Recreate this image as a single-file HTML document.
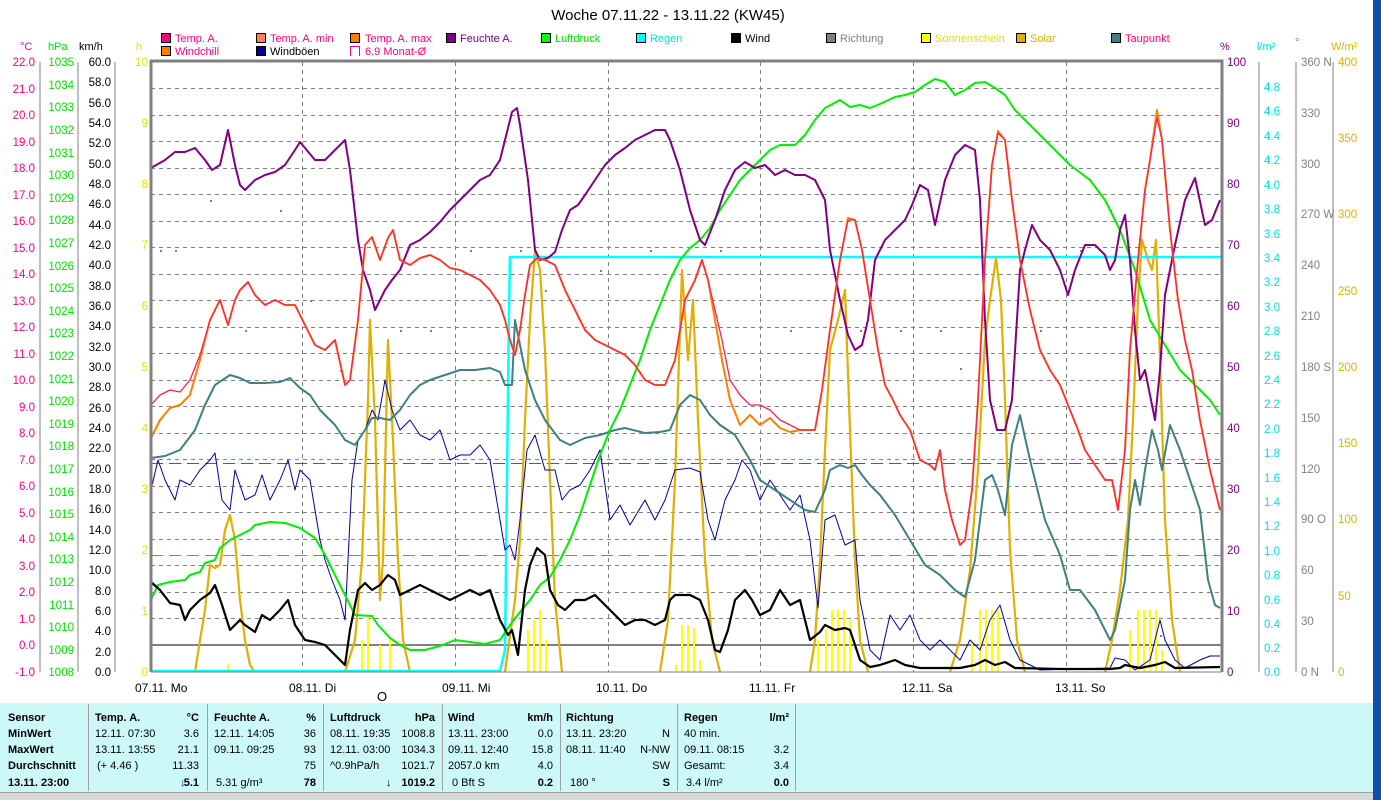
<!DOCTYPE html>
<html><head><meta charset="utf-8"><style>
html,body{margin:0;padding:0;background:#fff;width:1381px;height:800px;overflow:hidden}
svg{display:block;font-family:"Liberation Sans",sans-serif}
</style></head><body>
<svg width="1381" height="800" viewBox="0 0 1381 800" xmlns="http://www.w3.org/2000/svg">
<rect x="0" y="0" width="1381" height="800" fill="#fff"/>
<rect x="1373" y="0" width="8" height="800" fill="#0b4fb0"/>
<text x="668" y="20" font-size="15" text-anchor="middle">Woche 07.11.22 - 13.11.22 (KW45)</text>
<g font-size="11">
<rect x="161.5" y="33.5" width="9" height="9" fill="#ff0080" stroke="#000"/><text x="175" y="42" fill="#ff0080">Temp. A.</text>
<rect x="256.5" y="33.5" width="9" height="9" fill="#ff8050" stroke="#000"/><text x="270" y="42" fill="#ff0080">Temp. A. min</text>
<rect x="350.5" y="33.5" width="9" height="9" fill="#ff8000" stroke="#000"/><text x="365" y="42" fill="#ff0080">Temp. A. max</text>
<rect x="446.5" y="33.5" width="9" height="9" fill="#800080" stroke="#000"/><text x="460" y="42" fill="#800080">Feuchte A.</text>
<rect x="541.5" y="33.5" width="9" height="9" fill="#00ff00" stroke="#000"/><text x="555" y="42" fill="#00e000">Luftdruck</text>
<rect x="636.5" y="33.5" width="9" height="9" fill="#00ffff" stroke="#000"/><text x="650" y="42" fill="#00e0e0">Regen</text>
<rect x="731.5" y="33.5" width="9" height="9" fill="#000" stroke="#000"/><text x="745" y="42" fill="#000">Wind</text>
<rect x="826.5" y="33.5" width="9" height="9" fill="#808080" stroke="#000"/><text x="840" y="42" fill="#808080">Richtung</text>
<rect x="921.5" y="33.5" width="9" height="9" fill="#ffff00" stroke="#000"/><text x="935" y="42" fill="#e0e000">Sonnenschein</text>
<rect x="1016.5" y="33.5" width="9" height="9" fill="#e0b000" stroke="#000"/><text x="1030" y="42" fill="#e0b000">Solar</text>
<rect x="1111.5" y="33.5" width="9" height="9" fill="#408080" stroke="#000"/><text x="1125" y="42" fill="#ff0080">Taupunkt</text>
<rect x="161.5" y="46.5" width="9" height="9" fill="#ff8000" stroke="#000"/><text x="175" y="55" fill="#ff0080">Windchill</text>
<rect x="256.5" y="46.5" width="9" height="9" fill="#000090" stroke="#000"/><text x="270" y="55" fill="#000">Windböen</text>
<path d="M350.5,56 V46.5 H359.5 V56" fill="none" stroke="#ff0080"/><text x="365" y="55" fill="#ff0080">6.9 Monat-Ø</text>
<text x="20" y="50" fill="#ff0080">°C</text>
<text x="48" y="50" fill="#00e000">hPa</text>
<text x="79" y="50" fill="#000">km/h</text>
<text x="136" y="50" fill="#e0e000">h</text>
<text x="1220" y="50" fill="#800080">%</text>
<text x="1257" y="50" fill="#00e0e0">l/m²</text>
<text x="1295" y="46" fill="#808080">°</text>
<text x="1331" y="50" fill="#e0b000">W/m²</text>
</g>
<!-- grid -->
<g stroke="#808080" stroke-dasharray="4,4" stroke-width="1">
<path d="M151,88.5H1222M151,115.5H1222M151,141.5H1222M151,168.5H1222M151,194.5H1222M151,221.5H1222M151,247.5H1222M151,274.5H1222M151,300.5H1222M151,327.5H1222M151,353.5H1222M151,380.5H1222M151,406.5H1222M151,433.5H1222M151,459.5H1222M151,486.5H1222M151,512.5H1222M151,539.5H1222M151,565.5H1222M151,592.5H1222M151,618.5H1222"/>
<path d="M302.5,62V672M455.5,62V672M608.5,62V672M760.5,62V672M913.5,62V672M1066.5,62V672"/>
</g>
<path d="M151,463.5H1222" stroke="#ff0080" stroke-dasharray="12,6"/>
<path d="M151,555.5H1222" stroke="#00e000" stroke-dasharray="12,6"/>
<path d="M151,645H1222" stroke="#808080" stroke-width="2"/>
<!-- direction dots -->
<g fill="#808080">
<rect x="160" y="250" width="2" height="2"/><rect x="175" y="250" width="2" height="2"/><rect x="245" y="330" width="2" height="2"/><rect x="310" y="300" width="2" height="2"/><rect x="340" y="370" width="2" height="2"/><rect x="400" y="330" width="2" height="2"/><rect x="430" y="330" width="2" height="2"/><rect x="470" y="250" width="2" height="2"/><rect x="520" y="250" width="2" height="2"/><rect x="545" y="290" width="2" height="2"/><rect x="600" y="270" width="2" height="2"/><rect x="650" y="250" width="2" height="2"/><rect x="720" y="250" width="2" height="2"/><rect x="790" y="330" width="2" height="2"/><rect x="860" y="330" width="2" height="2"/><rect x="900" y="330" width="2" height="2"/><rect x="940" y="330" width="2" height="2"/><rect x="960" y="368" width="2" height="2"/><rect x="1040" y="330" width="2" height="2"/><rect x="1080" y="250" width="2" height="2"/><rect x="1110" y="210" width="2" height="2"/><rect x="1160" y="635" width="2" height="2"/><rect x="210" y="200" width="2" height="2"/><rect x="280" y="210" width="2" height="2"/>
</g>
<!-- sunshine bars -->
<g stroke="#ffff00" stroke-width="2">
<path d="M228,672V664M362,672V640M368,672V618M380,672V645M390,672V640M528,672V630M534,672V620M540,672V610M546,672V640M676,672V665M682,672V625M688,672V625M694,672V628M700,672V660M818,672V640M826,672V630M832,672V610M838,672V610M844,672V610M850,672V620M972,672V642M980,672V610M986,672V610M992,672V610M998,672V610M1130,672V630M1138,672V610M1144,672V610M1150,672V610M1156,672V610M1162,672V650"/>
</g>
<g fill="none" stroke-linejoin="round">
<!-- solar -->
<polyline stroke="#e0b000" stroke-width="2.2" points="195,672 200,640 205,610 210,565 215,568 220,565 225,530 230,515 235,540 240,600 245,640 250,665 255,672 M"/>
<polyline stroke="#e0b000" stroke-width="2.2" points="345,672 355,640 362,560 368,400 370,320 375,420 380,600 383,560 388,340 393,440 398,560 403,640 410,672"/>
<polyline stroke="#e0b000" stroke-width="2.2" points="505,672 515,600 520,540 525,420 530,320 535,250 540,270 545,350 550,480 555,600 562,672"/>
<polyline stroke="#e0b000" stroke-width="2.2" points="660,672 668,620 675,480 682,270 688,360 693,300 698,420 705,560 712,640 720,672"/>
<polyline stroke="#e0b000" stroke-width="2.2" points="810,672 815,640 820,560 825,450 830,350 838,320 845,290 850,430 855,560 860,640 868,672"/>
<polyline stroke="#e0b000" stroke-width="2.2" points="950,672 960,640 970,570 978,470 985,340 990,300 996,258 1001,300 1005,400 1010,550 1017,640 1025,672"/>
<polyline stroke="#e0b000" stroke-width="2.2" points="1105,672 1112,640 1120,590 1128,520 1133,420 1138,300 1142,240 1148,260 1152,270 1156,240 1160,360 1165,520 1172,620 1180,672"/>
<!-- rain -->
<polyline stroke="#00ffff" stroke-width="2.5" points="151,671 500,671 505,650 509,310 510,257 1222,257"/>
<!-- gusts -->
<polyline stroke="#0000a0" stroke-width="1" points="151,490 158,460 165,480 175,500 180,480 190,485 200,470 210,460 215,453 222,500 230,510 235,470 245,500 255,495 262,475 270,500 280,480 288,460 295,490 300,470 310,480 315,510 320,540 325,560 332,580 340,600 345,620 352,480 358,440 365,430 372,410 378,420 385,380 392,410 400,430 410,420 420,435 430,440 440,430 450,460 460,455 470,455 480,445 490,460 500,520 505,550 510,545 515,560 520,520 527,450 535,435 545,470 555,470 562,500 570,490 580,485 590,470 600,450 610,520 620,505 630,525 645,500 655,520 665,500 675,470 690,468 700,472 708,520 715,540 725,500 735,480 742,460 750,470 760,500 770,480 780,495 790,510 800,495 810,540 818,608 825,520 835,515 845,545 855,540 860,600 870,650 880,660 890,615 900,630 910,615 920,640 930,650 940,640 950,650 960,660 970,640 980,650 990,620 1000,605 1010,640 1020,660 1040,670 1110,668 1115,658 1125,660 1135,670 1150,660 1160,620 1165,640 1175,660 1185,668 1200,660 1210,656 1220,656"/>
<!-- dew point -->
<polyline stroke="#408080" stroke-width="2" points="151,458 165,456 180,450 195,430 205,405 215,385 230,375 240,378 250,383 265,383 280,382 290,378 300,388 310,395 320,410 335,425 345,440 355,445 365,430 372,418 380,418 390,420 400,410 410,395 420,385 430,380 445,375 460,370 475,370 490,368 500,372 505,385 512,385 515,320 525,370 535,400 545,420 560,440 570,445 585,438 600,435 615,430 625,428 645,433 660,432 670,430 680,405 690,395 700,400 710,415 720,425 735,435 750,460 760,480 775,490 790,500 805,510 815,512 825,490 830,470 840,465 848,468 855,465 862,475 870,485 880,495 895,515 910,540 925,565 940,575 955,590 965,597 975,560 985,480 992,475 998,490 1005,515 1012,445 1020,415 1030,460 1045,520 1060,555 1070,590 1080,590 1095,610 1110,640 1115,630 1125,580 1130,510 1135,480 1140,505 1145,470 1152,430 1158,450 1162,470 1170,425 1180,450 1190,480 1200,510 1208,580 1215,605 1220,608"/>
<!-- pressure -->
<polyline stroke="#00ee00" stroke-width="2" points="151,600 158,585 170,582 185,580 190,575 200,572 205,563 215,560 220,548 230,540 240,535 250,530 255,525 270,522 285,523 300,528 315,538 325,555 335,575 345,595 355,615 372,616 378,625 390,638 400,645 410,650 425,650 440,646 455,640 470,642 485,644 500,640 510,625 520,612 530,600 540,585 550,577 560,560 570,540 580,515 590,485 600,455 610,430 620,410 630,385 640,360 650,330 660,305 670,280 680,260 690,248 700,240 710,228 720,210 730,195 740,180 750,170 760,160 770,150 780,145 795,145 805,135 815,120 825,108 840,100 850,107 860,105 870,108 880,104 895,97 905,95 915,92 925,85 935,79 945,82 955,95 965,90 975,83 985,82 995,88 1005,95 1015,110 1030,125 1050,145 1070,165 1090,180 1105,200 1120,230 1135,270 1150,320 1165,345 1180,370 1195,385 1210,400 1220,415"/>
<!-- humidity -->
<polyline stroke="#800080" stroke-width="2" points="151,168 165,160 175,152 185,152 195,148 205,160 212,170 220,165 228,130 235,165 240,185 245,190 255,180 265,175 275,172 285,165 295,150 300,142 305,148 315,160 325,160 335,150 345,140 350,170 358,240 363,270 370,290 375,310 380,300 385,290 392,280 400,270 410,245 420,240 430,232 440,222 450,210 460,200 470,190 480,180 490,175 500,160 505,140 512,112 517,108 520,125 528,180 535,250 540,260 548,258 555,252 562,230 570,210 578,205 585,195 595,180 605,165 615,155 625,148 635,140 645,135 655,130 665,130 670,140 680,170 690,210 700,240 705,245 715,220 725,190 735,170 745,162 755,168 765,165 775,175 785,170 795,175 805,175 815,180 825,200 830,250 840,300 848,335 855,350 862,345 868,320 875,260 885,240 895,230 905,220 912,205 920,185 928,190 935,225 945,180 955,155 965,145 975,150 980,200 985,320 990,400 997,430 1005,430 1012,400 1020,270 1025,250 1032,225 1040,240 1050,250 1060,270 1068,295 1075,270 1085,245 1095,245 1105,255 1110,270 1115,260 1120,230 1125,215 1130,260 1135,330 1140,380 1145,370 1150,395 1155,420 1160,370 1165,295 1175,245 1185,200 1195,178 1205,225 1212,220 1220,200"/>
<!-- windchill / temp -->
<polyline stroke="#ff8000" stroke-width="2" points="151,438 160,420 170,408 180,405 190,395 200,360 210,320 220,300 228,325 235,300 240,290 248,282 255,295 265,305 275,300 285,305 295,305 305,325 315,345 325,350 335,340 345,385 350,380 358,320 365,245 372,237 380,260 388,238 393,230 400,260 410,265 420,258 430,255 440,260 450,268 460,270 470,275 480,280 490,290 500,305 505,320 510,340 515,355 520,330 525,295 530,265 537,258 545,260 555,265 565,290 575,310 585,330 595,340 605,345 615,350 625,355 635,365 645,380 655,385 665,385 675,360 685,300 695,280 702,260 708,280 715,320 722,360 730,400 740,425 750,415 760,425 770,418 780,428 790,432 800,430 810,430 815,430 822,390 830,330 840,260 848,218 855,220 862,250 870,300 878,350 885,385 893,400 900,415 910,430 920,460 930,465 935,470 940,450 945,490 952,520 960,545 965,540 972,490 978,400 985,260 992,165 998,131 1005,140 1012,200 1020,260 1030,310 1040,350 1050,370 1060,385 1068,405 1078,430 1085,450 1095,465 1105,480 1112,480 1118,510 1125,450 1130,350 1138,260 1145,190 1150,160 1157,110 1162,140 1170,230 1178,300 1185,340 1192,370 1200,420 1210,470 1220,510"/>
<polyline stroke="#ff2050" stroke-width="1.3" points="151,405 160,395 170,390 180,392 190,380 200,355 210,320 220,300 228,325 235,300 240,290 248,282 255,295 265,305 275,300 285,305 295,305 305,325 315,345 325,350 335,340 345,385 350,380 358,320 365,245 372,237 380,260 388,238 393,230 400,260 410,265 420,258 430,255 440,260 450,268 460,270 470,275 480,280 490,290 500,305 505,320 510,340 515,355 520,330 525,295 530,265 537,258 545,260 555,265 565,290 575,310 585,330 595,340 605,345 615,350 625,355 635,365 645,380 655,385 665,385 675,360 685,300 695,280 702,260 708,280 715,310 722,340 730,380 740,395 750,405 760,405 770,410 780,420 790,425 800,430 810,430 815,430 822,390 830,330 840,260 848,220 855,220 862,250 870,300 878,350 885,385 893,400 900,415 910,430 920,460 930,465 935,470 940,450 945,490 952,520 960,545 965,540 972,490 978,400 985,260 992,165 998,133 1005,140 1012,200 1020,260 1030,310 1040,350 1050,370 1060,385 1068,405 1078,430 1085,450 1095,465 1105,480 1112,480 1118,510 1125,450 1130,350 1138,260 1145,190 1150,160 1157,118 1162,140 1170,230 1178,300 1185,340 1192,370 1200,420 1210,470 1220,510"/>
<!-- wind -->
<polyline stroke="#000" stroke-width="2.2" points="151,582 160,590 170,603 180,605 185,620 190,610 200,600 210,593 215,585 222,605 230,630 240,620 245,625 255,632 262,615 270,620 280,610 288,600 295,625 305,640 315,642 325,645 335,655 345,665 350,630 358,590 365,583 372,590 380,585 388,575 395,580 400,595 410,590 420,585 430,590 440,595 450,600 460,595 470,590 480,595 490,590 500,620 508,635 512,630 518,655 525,590 530,565 537,548 545,555 550,590 558,605 565,610 575,600 585,600 595,595 605,605 615,615 625,625 635,620 645,620 655,625 665,620 670,600 675,595 690,595 700,600 708,620 715,650 720,652 728,630 735,600 745,590 752,600 760,615 770,610 780,590 790,605 800,600 810,640 820,632 825,625 835,630 845,628 850,630 855,645 860,660 870,667 880,665 895,660 905,665 920,668 960,668 975,665 985,660 995,665 1005,662 1015,668 1060,669 1110,669 1120,668 1125,665 1140,668 1155,665 1165,662 1175,668 1220,667"/>
</g>
<!-- frame -->
<path d="M151,672V61H1222V672" fill="none" stroke="#808080" stroke-width="3"/>
<path d="M151,672H1222" stroke="#808080" stroke-width="1"/>
<!-- left axes -->
<g stroke="#808080" fill="none">
<path d="M40,62V672M78,62V672M115,62V672"/>
</g>
<g font-size="11.5" text-anchor="end">
<g fill="#ff0080" id="c"></g>
</g>
<g font-size="11.5" text-anchor="end" fill="#ff0080">
<text x="35" y="66">22.0</text><text x="35" y="93">21.0</text><text x="35" y="119">20.0</text><text x="35" y="146">19.0</text><text x="35" y="172">18.0</text><text x="35" y="199">17.0</text><text x="35" y="225">16.0</text><text x="35" y="252">15.0</text><text x="35" y="278">14.0</text><text x="35" y="305">13.0</text><text x="35" y="331">12.0</text><text x="35" y="358">11.0</text><text x="35" y="384">10.0</text><text x="35" y="411">9.0</text><text x="35" y="437">8.0</text><text x="35" y="464">7.0</text><text x="35" y="490">6.0</text><text x="35" y="517">5.0</text><text x="35" y="543">4.0</text><text x="35" y="570">3.0</text><text x="35" y="596">2.0</text><text x="35" y="623">1.0</text><text x="35" y="649">0.0</text><text x="35" y="676">-1.0</text>
</g>
<g font-size="11.5" text-anchor="end" fill="#00e000">
<text x="74" y="66">1035</text><text x="74" y="89">1034</text><text x="74" y="111">1033</text><text x="74" y="134">1032</text><text x="74" y="157">1031</text><text x="74" y="179">1030</text><text x="74" y="202">1029</text><text x="74" y="224">1028</text><text x="74" y="247">1027</text><text x="74" y="270">1026</text><text x="74" y="292">1025</text><text x="74" y="315">1024</text><text x="74" y="337">1023</text><text x="74" y="360">1022</text><text x="74" y="383">1021</text><text x="74" y="405">1020</text><text x="74" y="428">1019</text><text x="74" y="450">1018</text><text x="74" y="473">1017</text><text x="74" y="496">1016</text><text x="74" y="518">1015</text><text x="74" y="541">1014</text><text x="74" y="563">1013</text><text x="74" y="586">1012</text><text x="74" y="609">1011</text><text x="74" y="631">1010</text><text x="74" y="654">1009</text><text x="74" y="676">1008</text>
</g>
<g font-size="11.5" text-anchor="end" fill="#000">
<text x="111" y="66">60.0</text><text x="111" y="86">58.0</text><text x="111" y="107">56.0</text><text x="111" y="127">54.0</text><text x="111" y="147">52.0</text><text x="111" y="168">50.0</text><text x="111" y="188">48.0</text><text x="111" y="208">46.0</text><text x="111" y="229">44.0</text><text x="111" y="249">42.0</text><text x="111" y="269">40.0</text><text x="111" y="290">38.0</text><text x="111" y="310">36.0</text><text x="111" y="330">34.0</text><text x="111" y="351">32.0</text><text x="111" y="371">30.0</text><text x="111" y="391">28.0</text><text x="111" y="412">26.0</text><text x="111" y="432">24.0</text><text x="111" y="452">22.0</text><text x="111" y="473">20.0</text><text x="111" y="493">18.0</text><text x="111" y="513">16.0</text><text x="111" y="534">14.0</text><text x="111" y="554">12.0</text><text x="111" y="574">10.0</text><text x="111" y="595">8.0</text><text x="111" y="615">6.0</text><text x="111" y="635">4.0</text><text x="111" y="656">2.0</text><text x="111" y="676">0.0</text>
</g>
<g font-size="11.5" text-anchor="end" fill="#e0e000">
<text x="148" y="66">10</text><text x="148" y="127">9</text><text x="148" y="188">8</text><text x="148" y="249">7</text><text x="148" y="310">6</text><text x="148" y="371">5</text><text x="148" y="432">4</text><text x="148" y="493">3</text><text x="148" y="554">2</text><text x="148" y="615">1</text><text x="148" y="676">0</text>
</g>
<!-- right axes -->
<g stroke="#808080" fill="none">
<path d="M1259,62V672M1296,62V672M1333,62V672"/>
</g>
<g font-size="11.5" fill="#800080">
<text x="1227" y="66">100</text><text x="1227" y="127">90</text><text x="1227" y="188">80</text><text x="1227" y="249">70</text><text x="1227" y="310">60</text><text x="1227" y="371">50</text><text x="1227" y="432">40</text><text x="1227" y="493">30</text><text x="1227" y="554">20</text><text x="1227" y="615">10</text><text x="1227" y="676">0</text>
</g>
<g font-size="11.5" fill="#00e0e0">
<text x="1264" y="91">4.8</text><text x="1264" y="115">4.6</text><text x="1264" y="140">4.4</text><text x="1264" y="164">4.2</text><text x="1264" y="189">4.0</text><text x="1264" y="213">3.8</text><text x="1264" y="238">3.6</text><text x="1264" y="262">3.4</text><text x="1264" y="286">3.2</text><text x="1264" y="311">3.0</text><text x="1264" y="335">2.8</text><text x="1264" y="360">2.6</text><text x="1264" y="384">2.4</text><text x="1264" y="408">2.2</text><text x="1264" y="433">2.0</text><text x="1264" y="457">1.8</text><text x="1264" y="482">1.6</text><text x="1264" y="506">1.4</text><text x="1264" y="530">1.2</text><text x="1264" y="555">1.0</text><text x="1264" y="579">0.8</text><text x="1264" y="604">0.6</text><text x="1264" y="628">0.4</text><text x="1264" y="652">0.2</text><text x="1264" y="676">0.0</text>
</g>
<g font-size="11.5" fill="#808080">
<text x="1301" y="66">360 N</text><text x="1301" y="117">330</text><text x="1301" y="168">300</text><text x="1301" y="218">270 W</text><text x="1301" y="269">240</text><text x="1301" y="320">210</text><text x="1301" y="371">180 S</text><text x="1301" y="422">150</text><text x="1301" y="473">120</text><text x="1301" y="523">90  O</text><text x="1301" y="574">60</text><text x="1301" y="625">30</text><text x="1301" y="676">0   N</text>
</g>
<g font-size="11.5" fill="#e0b000">
<text x="1338" y="66">400</text><text x="1338" y="142">350</text><text x="1338" y="218">300</text><text x="1338" y="295">250</text><text x="1338" y="371">200</text><text x="1338" y="447">150</text><text x="1338" y="523">100</text><text x="1338" y="600">50</text><text x="1338" y="676">0</text>
</g>
<!-- x labels -->
<g font-size="12" fill="#000">
<text x="135" y="692">07.11. Mo</text><text x="289" y="692">08.11. Di</text><text x="442" y="692">09.11. Mi</text><text x="596" y="692">10.11. Do</text><text x="749" y="692">11.11. Fr</text><text x="902" y="692">12.11. Sa</text><text x="1055" y="692">13.11. So</text>
<text x="377" y="701" font-size="13">O</text>
</g>
<!-- table -->
<rect x="0" y="703" width="1373" height="89" fill="#ccf8f8"/>
<rect x="0" y="792" width="1373" height="8" fill="#d8d8d8"/>
<path d="M0,792.5H1373" stroke="#a0a0a0"/>
<g stroke="#a0a0a0"><path d="M88.5,704V791M207.5,704V791M323.5,704V791M442.5,704V791M560.5,704V791M677.5,704V791M795.5,704V791"/></g>
<g font-size="11" fill="#000">
<g font-weight="bold"><text x="8" y="721">Sensor</text><text x="8" y="737">MinWert</text><text x="8" y="753">MaxWert</text><text x="8" y="769">Durchschnitt</text><text x="8" y="786">13.11. 23:00</text>
<text x="95" y="721">Temp. A.</text><text x="214" y="721">Feuchte A.</text><text x="330" y="721">Luftdruck</text><text x="448" y="721">Wind</text><text x="566" y="721">Richtung</text><text x="684" y="721">Regen</text></g>
<g font-weight="bold" text-anchor="end"><text x="199" y="721">°C</text><text x="316" y="721">%</text><text x="435" y="721">hPa</text><text x="553" y="721">km/h</text><text x="789" y="721">l/m²</text>
<text x="199" y="786">5.1</text><text x="316" y="786">78</text><text x="435" y="786">1019.2</text><text x="553" y="786">0.2</text><text x="670" y="786">S</text><text x="789" y="786">0.0</text></g>
<text x="95" y="737">12.11.  07:30</text><text x="95" y="753">13.11.  13:55</text><text x="97" y="769">(+ 4.46 )</text>
<text x="214" y="737">12.11.  14:05</text><text x="214" y="753">09.11.  09:25</text><text x="216" y="786">5.31 g/m³</text>
<text x="330" y="737">08.11.  19:35</text><text x="330" y="753">12.11.  03:00</text><text x="330" y="769">^0.9hPa/h</text>
<text x="448" y="737">13.11.  23:00</text><text x="448" y="753">09.11.  12:40</text><text x="448" y="769">2057.0 km</text><text x="452" y="786">0 Bft S</text>
<text x="566" y="737">13.11.  23:20</text><text x="566" y="753">08.11.  11:40</text><text x="570" y="786">180 °</text>
<text x="684" y="737">40 min.</text><text x="684" y="753">09.11.  08:15</text><text x="684" y="769">Gesamt:</text><text x="686" y="786">3.4 l/m²</text>
<g text-anchor="end"><text x="199" y="737">3.6</text><text x="199" y="753">21.1</text><text x="199" y="769">11.33</text>
<text x="316" y="737">36</text><text x="316" y="753">93</text><text x="316" y="769">75</text>
<text x="435" y="737">1008.8</text><text x="435" y="753">1034.3</text><text x="435" y="769">1021.7</text>
<text x="553" y="737">0.0</text><text x="553" y="753">15.8</text><text x="553" y="769">4.0</text>
<text x="670" y="737">N</text><text x="670" y="753">N-NW</text><text x="670" y="769">SW</text>
<text x="789" y="753">3.2</text><text x="789" y="769">3.4</text></g>
<text x="180" y="786" fill="#0040ff" font-weight="bold">↓</text><text x="386" y="786" font-weight="bold">↓</text>
</g>
</svg>
</body></html>
